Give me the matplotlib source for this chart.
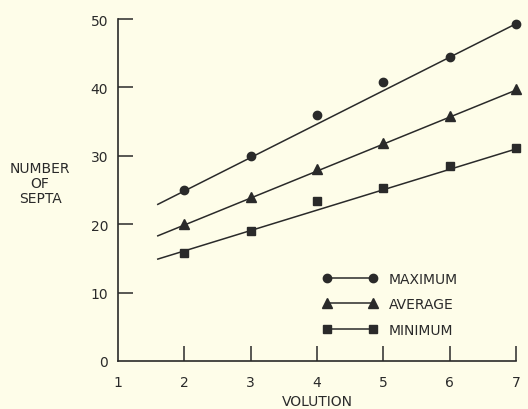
#!/usr/bin/env python3

import matplotlib
matplotlib.use("Agg")
import matplotlib.pyplot as plt

# values
volution = [2, 3, 4, 5, 6, 7]
maximum = [25.0, 30.0, 35.9, 40.8, 44.4, 49.3]
average = [20.0, 24.0, 28.0, 31.9, 35.8, 39.7]
minimum = [15.8, 19.0, 23.4, 25.3, 28.5, 31.1]

# hand-drawn fit lines (start and end)
fit_x = [1.6, 7.0]
fit_max = [22.9, 49.3]
fit_avg = [18.3, 39.6]
fit_min = [14.9, 31.0]

xticks = [1, 2, 3, 4, 5, 6, 7]
yticks = [0, 10, 20, 30, 40, 50]

bg = "#fefde9"
ink = "#2a2a2a"
fs = 10

plt.rcParams["font.family"] = ["DejaVu Sans"]

fig = plt.figure(figsize=(5.28, 4.10), dpi=100, facecolor=bg)
ax = fig.add_axes([118 / 528, 1 - 362 / 410, 398 / 528, 342 / 410])
ax.set_facecolor(bg)

ax.plot(fit_x, fit_max, color=ink, lw=1.1)
ax.plot(fit_x, fit_avg, color=ink, lw=1.1)
ax.plot(fit_x, fit_min, color=ink, lw=1.1)

ax.plot(volution, maximum, "o", color=ink, ms=6, clip_on=False)
ax.plot(volution, average, "^", color=ink, ms=6.5, clip_on=False)
ax.plot(volution, minimum, "s", color=ink, ms=5.5, clip_on=False)

# legend entries: marker - line - marker
h1, = ax.plot([], [], "-o", color=ink, ms=6, lw=1.1)
h2, = ax.plot([], [], "-^", color=ink, ms=6.5, lw=1.1)
h3, = ax.plot([], [], "-s", color=ink, ms=5.5, lw=1.1)
leg = ax.legend([h1, h2, h3], ["MAXIMUM", "AVERAGE", "MINIMUM"], numpoints=2,
                frameon=False, handlelength=3.9, handletextpad=0.85,
                labelspacing=0.85, fontsize=fs, loc="upper left",
                bbox_to_anchor=(0.497, 0.282), borderpad=0)
for t in leg.get_texts():
    t.set_color(ink)

ax.set_xlim(1, 7)
ax.set_ylim(0, 50)
ax.spines["top"].set_visible(False)
ax.spines["right"].set_visible(False)
ax.spines["left"].set_color(ink)
ax.spines["bottom"].set_color(ink)
ax.spines["left"].set_linewidth(1.2)
ax.spines["bottom"].set_linewidth(1.2)

ax.set_xticks(xticks)
ax.set_xticklabels([str(v) for v in xticks])
ax.set_yticks(yticks)
ax.set_yticklabels([str(v) for v in yticks])
ax.tick_params(axis="both", direction="in", length=11, width=1.1, color=ink,
               labelcolor=ink, labelsize=fs)
ax.tick_params(axis="x", pad=10)
ax.tick_params(axis="y", pad=7)
ax.xaxis.get_major_ticks()[0].tick1line.set_visible(False)
ax.yaxis.get_major_ticks()[0].tick1line.set_visible(False)

ax.set_xlabel("VOLUTION", fontsize=fs, color=ink, labelpad=4)
fig.text(40 / 528, 1 - 184 / 410, "NUMBER\nOF\nSEPTA", ha="center", va="center",
         fontsize=fs, color=ink, linespacing=1.05)

fig.savefig("out.png", dpi=100, facecolor=bg)
